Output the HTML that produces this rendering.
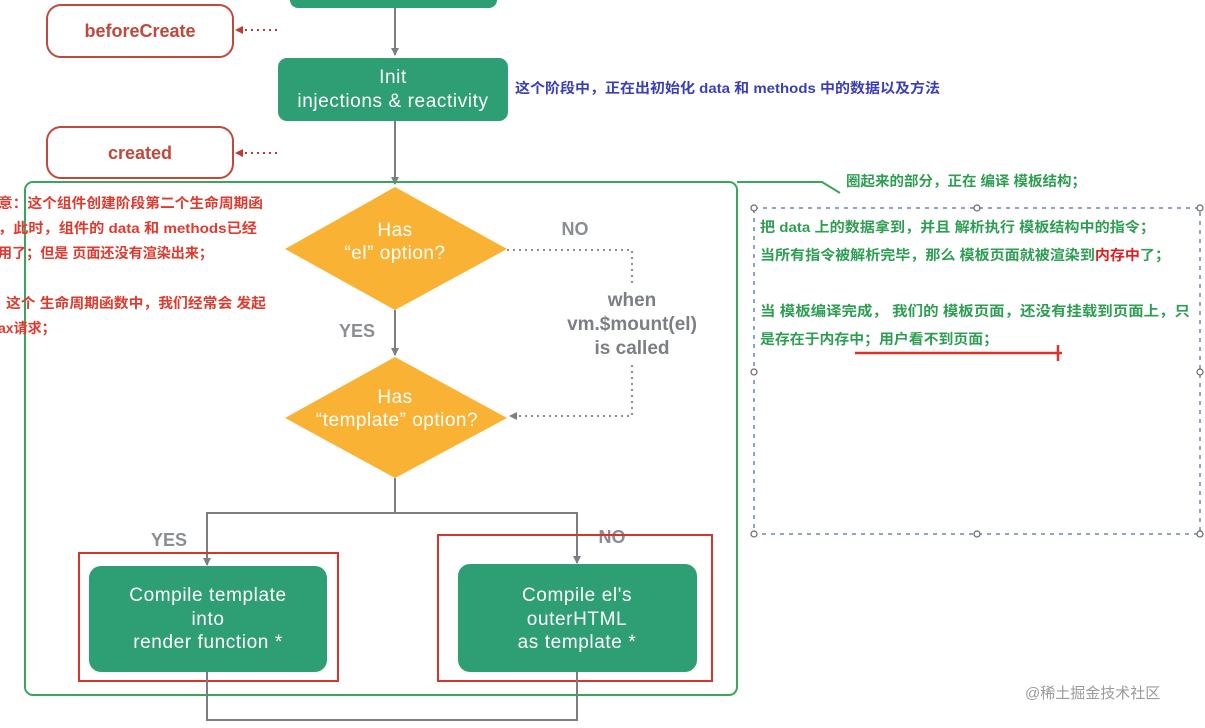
<!DOCTYPE html>
<html><head><meta charset="utf-8"><style>
body{margin:0;background:#fff;width:1205px;height:723px;overflow:hidden}
svg text{font-family:"Liberation Sans","Noto Sans CJK SC",sans-serif}
</style></head><body>
<svg width="1205" height="723" viewBox="0 0 1205 723" xmlns="http://www.w3.org/2000/svg">
<defs>
<marker id="a" markerWidth="8" markerHeight="8" refX="7" refY="4" orient="auto" markerUnits="userSpaceOnUse"><path d="M0,0 L8,4 L0,8 z" fill="#7b7f84"/></marker>
<marker id="r" markerWidth="8" markerHeight="8" refX="7" refY="4" orient="auto" markerUnits="userSpaceOnUse"><path d="M0,0 L8,4 L0,8 z" fill="#c0392b"/></marker>
</defs>
<rect x="290" y="-20" width="207" height="28" rx="8" fill="#2e9e74"/>
<line x1="395" y1="8" x2="395" y2="55" stroke="#7b7f84" stroke-width="2" marker-end="url(#a)"/>
<rect x="47" y="5" width="186" height="52" rx="14" fill="#fff" stroke="#c0483c" stroke-width="2"/>
<text x="140" y="37" text-anchor="middle" font-size="18" font-weight="bold" fill="#c0483c">beforeCreate</text>
<line x1="277" y1="30" x2="236" y2="30" stroke="#c0392b" stroke-width="2" stroke-dasharray="2,4" marker-end="url(#r)"/>
<rect x="278" y="58" width="230" height="63" rx="9" fill="#2e9e74"/>
<g font-size="19" fill="#fff" text-anchor="middle" letter-spacing="0.6">
<text x="393" y="83">Init</text>
<text x="393" y="107">injections &amp; reactivity</text>
</g>
<text x="515" y="93" font-size="14" font-weight="bold" fill="#3a3fb5" textLength="425" lengthAdjust="spacingAndGlyphs">这个阶段中，正在出初始化 data 和 methods 中的数据以及方法</text>
<rect x="47" y="127" width="186" height="51" rx="14" fill="#fff" stroke="#c0483c" stroke-width="2"/>
<text x="140" y="159" text-anchor="middle" font-size="18" font-weight="bold" fill="#c0483c">created</text>
<line x1="277" y1="153" x2="236" y2="153" stroke="#c0392b" stroke-width="2" stroke-dasharray="2,4" marker-end="url(#r)"/>
<line x1="395" y1="121" x2="395" y2="184" stroke="#7b7f84" stroke-width="2" marker-end="url(#a)"/>
<rect x="25" y="182" width="712" height="513" rx="8" fill="none" stroke="#3aa55c" stroke-width="2"/>
<polyline points="737,182 822,182 840,193" fill="none" stroke="#3aa55c" stroke-width="2"/>
<g font-size="14" font-weight="bold" fill="#e03a2e">
<text x="-2" y="208" textLength="265" lengthAdjust="spacingAndGlyphs">意：这个组件创建阶段第二个生命周期函</text>
<text x="-2" y="233" textLength="259" lengthAdjust="spacingAndGlyphs">，此时，组件的 data 和 methods已经</text>
<text x="-2" y="258" textLength="215" lengthAdjust="spacingAndGlyphs">用了；但是 页面还没有渲染出来；</text>
<text x="6" y="308" textLength="260" lengthAdjust="spacingAndGlyphs">这个 生命周期函数中，我们经常会 发起</text>
<text x="-2" y="333">ax请求；</text>
</g>
<polygon points="395,187 507,249 395,310 285,249" fill="#f9b233"/>
<g font-size="19" fill="#fff" text-anchor="middle" letter-spacing="0.5">
<text x="395" y="236">Has</text>
<text x="395" y="259">“el” option?</text>
</g>
<text x="575" y="235" text-anchor="middle" font-size="18" font-weight="bold" fill="#8a8e93">NO</text>
<polyline points="507,250 632,250 632,285" fill="none" stroke="#8a8e93" stroke-width="2" stroke-dasharray="2,4"/>
<polyline points="632,365 632,416 510,416" fill="none" stroke="#8a8e93" stroke-width="2" stroke-dasharray="2,4" marker-end="url(#a)"/>
<g font-size="19" font-weight="bold" fill="#7b7f84" text-anchor="middle">
<text x="632" y="306">when</text>
<text x="632" y="330">vm.$mount(el)</text>
<text x="632" y="354">is called</text>
</g>
<line x1="395" y1="310" x2="395" y2="355" stroke="#7b7f84" stroke-width="2" marker-end="url(#a)"/>
<text x="357" y="337" text-anchor="middle" font-size="18" font-weight="bold" fill="#8a8e93">YES</text>
<polygon points="395,357 507,418 395,478 285,418" fill="#f9b233"/>
<g font-size="19" fill="#fff" text-anchor="middle" letter-spacing="0.5">
<text x="395" y="403">Has</text>
<text x="397" y="426">“template” option?</text>
</g>
<polyline points="395,478 395,513" fill="none" stroke="#7b7f84" stroke-width="2"/>
<polyline points="207,565 207,513 577,513 577,562" fill="none" stroke="#7b7f84" stroke-width="2"/>
<line x1="207" y1="540" x2="207" y2="565" stroke="#7b7f84" stroke-width="2" marker-end="url(#a)"/>
<line x1="577" y1="540" x2="577" y2="563" stroke="#7b7f84" stroke-width="2" marker-end="url(#a)"/>
<text x="169" y="546" text-anchor="middle" font-size="18" font-weight="bold" fill="#8a8e93">YES</text>
<text x="612" y="543" text-anchor="middle" font-size="18" font-weight="bold" fill="#8a8e93">NO</text>
<rect x="79" y="553" width="259" height="128" fill="none" stroke="#d9342b" stroke-width="2"/>
<rect x="89" y="566" width="238" height="106" rx="12" fill="#2e9e74"/>
<g font-size="19" fill="#fff" text-anchor="middle" letter-spacing="0.6">
<text x="208" y="601">Compile template</text>
<text x="208" y="625">into</text>
<text x="208" y="648">render function *</text>
</g>
<rect x="438" y="535" width="274" height="146" fill="none" stroke="#d9342b" stroke-width="2"/>
<rect x="458" y="564" width="239" height="108" rx="12" fill="#2e9e74"/>
<g font-size="19" fill="#fff" text-anchor="middle" letter-spacing="0.6">
<text x="577" y="601">Compile el's</text>
<text x="577" y="625">outerHTML</text>
<text x="577" y="648">as template *</text>
</g>
<polyline points="207,672 207,720 577,720 577,672" fill="none" stroke="#7b7f84" stroke-width="2"/>
<text x="846" y="186" font-size="14" font-weight="bold" fill="#2e9e52" textLength="240" lengthAdjust="spacingAndGlyphs">圈起来的部分，正在 编译 模板结构；</text>
<rect x="754" y="208" width="446" height="326" fill="none" stroke="#6b86b0" stroke-width="1.5" stroke-dasharray="4,5"/>
<g fill="#fff" stroke="#666" stroke-width="1.2">
<circle cx="754" cy="208" r="3"/><circle cx="977" cy="208" r="3"/><circle cx="1200" cy="208" r="3"/>
<circle cx="754" cy="372" r="3"/><circle cx="1200" cy="372" r="3"/>
<circle cx="754" cy="534" r="3"/><circle cx="977" cy="534" r="3"/><circle cx="1200" cy="534" r="3"/>
</g>
<g font-size="14" font-weight="bold" fill="#2e9e52">
<text x="760" y="232" textLength="395" lengthAdjust="spacingAndGlyphs">把 data 上的数据拿到，并且 解析执行 模板结构中的指令；</text>
<text x="760" y="260" textLength="410" lengthAdjust="spacingAndGlyphs">当所有指令被解析完毕，那么 模板页面就被渲染到<tspan fill="#e02020">内存中</tspan>了；</text>
<text x="760" y="316" textLength="430" lengthAdjust="spacingAndGlyphs">当 模板编译完成， 我们的 模板页面，还没有挂载到页面上，只</text>
<text x="760" y="344" textLength="238" lengthAdjust="spacingAndGlyphs">是存在于内存中；用户看不到页面；</text>
</g>
<line x1="855" y1="353" x2="1062" y2="353" stroke="#e0302a" stroke-width="2.5"/>
<line x1="1058" y1="345" x2="1058" y2="361" stroke="#e0302a" stroke-width="2.5"/>
<text x="1025" y="698" font-size="15" fill="#9a9a9a">@稀土掘金技术社区</text>
</svg>
</body></html>
